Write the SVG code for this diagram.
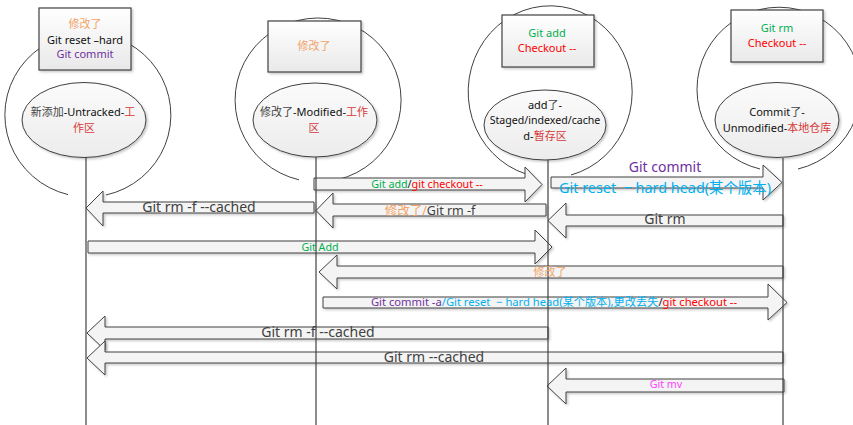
<svg xmlns="http://www.w3.org/2000/svg" width="853" height="425" viewBox="0 0 853 425">
  <defs>
    <linearGradient id="boxFill" x1="0" y1="0" x2="0" y2="1">
      <stop offset="0" stop-color="#ffffff"/>
      <stop offset="1" stop-color="#e9e9e9"/>
    </linearGradient>
    <linearGradient id="ellFill" x1="0" y1="0" x2="0" y2="1">
      <stop offset="0" stop-color="#fbfbfb"/>
      <stop offset="1" stop-color="#ececec"/>
    </linearGradient>
    <filter id="shadow" x="-5%" y="-10%" width="115%" height="130%">
      <feDropShadow dx="1.5" dy="1.5" stdDeviation="0.8" flood-color="#000" flood-opacity="0.22"/>
    </filter>
  </defs>
  <style>
    text { font-family: "Noto Sans", "Noto Sans CJK SC", sans-serif; text-anchor: middle; }
    .loop { fill: none; stroke: #404040; stroke-width: 1; }
    .box { fill: url(#boxFill); stroke: #404040; stroke-width: 1.2; filter: url(#shadow); }
    .ell { fill: url(#ellFill); stroke: #404040; stroke-width: 1; filter: url(#shadow); }
    .life { stroke: #404040; stroke-width: 1.2; }
    .arrow { fill: #f4f4f4; stroke: #404040; stroke-width: 1; filter: url(#shadow); }
    .t11 { font-size: 11px; }
    .t12 { font-size: 12.5px; }
    .t13 { font-size: 14px; }
    .t10 { font-size: 10.7px; }
    .blk { fill: #111; }
    .gry { fill: #404040; }
    .cjk { fill: #444; }
    .red { fill: #ff0000; }
    .dred { fill: #d63a3a; }
    .grn { fill: #00b050; }
    .pur { fill: #7030a0; }
    .cyn { fill: #00b0f0; }
    .org { fill: #f2a468; }
    .mag { fill: #ff40ff; }
  </style>
  <rect width="853" height="425" fill="#ffffff"/>

  <!-- working tree: untracked -->
  <g id="node-untracked">
    <path class="loop" d="M68,194.6 A83,82 0 1 1 106,195"/>
    <rect class="box" x="39" y="8" width="92" height="62"/>
    <text class="t11 org" x="85" y="28">修改了</text>
    <text class="t11 blk" x="85" y="44">Git reset –hard</text>
    <text class="t11 pur" x="85" y="58">Git commit</text>
    <ellipse class="ell" cx="84" cy="120" rx="62" ry="37.5"/>
    <text class="t11" x="83" y="116"><tspan class="cjk">新添加</tspan><tspan class="blk">-Untracked-</tspan><tspan class="dred">工</tspan></text>
    <text class="t11 dred" x="84" y="132">作区</text>
  </g>

  <!-- working tree: modified -->
  <g id="node-modified">
    <path class="loop" d="M299,179.8 A83,82 0 1 1 338,179.6"/>
    <rect class="box" x="268" y="21" width="93" height="51"/>
    <text class="t11 org" x="314" y="50">修改了</text>
    <ellipse class="ell" cx="315" cy="120" rx="62" ry="37"/>
    <text class="t11" x="314" y="116"><tspan class="cjk">修改了</tspan><tspan class="blk">-Modified-</tspan><tspan class="dred">工作</tspan></text>
    <text class="t11 dred" x="314" y="132">区</text>
  </g>

  <!-- staging area -->
  <g id="node-staged">
    <path class="loop" d="M526,174 A82,86 0 1 1 571,175"/>
    <rect class="box" x="502" y="15" width="92" height="52"/>
    <text class="t11 grn" x="547" y="37">Git add</text>
    <text class="t11 red" x="547" y="52">Checkout --</text>
    <ellipse class="ell" cx="545" cy="125" rx="61" ry="35"/>
    <text class="t11" x="545" y="109"><tspan class="blk">add</tspan><tspan class="cjk">了</tspan><tspan class="blk">-</tspan></text>
    <text class="blk" style="font-size:10.6px" x="545" y="124">Staged/indexed/cache</text>
    <text class="t11" x="545" y="140"><tspan class="blk">d-</tspan><tspan class="dred">暂存区</tspan></text>
  </g>

  <!-- local repository -->
  <g id="node-committed">
    <path class="loop" d="M760,169 A82,82 0 1 1 798,169"/>
    <rect class="box" x="731" y="10" width="92" height="52"/>
    <text class="t11 grn" x="777" y="32">Git rm</text>
    <text class="t11 red" x="777" y="47">Checkout --</text>
    <ellipse class="ell" cx="777" cy="120" rx="62" ry="37.5"/>
    <text class="t11" x="777" y="116"><tspan class="blk">Commit</tspan><tspan class="cjk">了</tspan><tspan class="blk">-</tspan></text>
    <text class="t11" x="777" y="132"><tspan class="blk">Unmodified-</tspan><tspan class="dred">本地仓库</tspan></text>
  </g>

  <g id="connectors">
    <!-- block arrows -->
    <polygon class="arrow" points="314,178 525,178 525,167 542,184.5 525,202 525,190 314,190"/>
    <polygon class="arrow" points="546,204 333,204 333,193 316,210.5 333,228 333,216 546,216"/>
    <polygon class="arrow" points="314,202 103,202 103,191 86,208 103,226 103,213 314,213"/>
    <polygon class="arrow" points="88,241 535,241 535,230 552,247 535,264 535,253 88,253"/>
    <polygon class="arrow" points="551,177 763,177 763,165 782,182.5 763,200 763,188 551,188"/>
    <polygon class="arrow" points="783,215 566,215 566,203 548,220.5 566,238 566,226 783,226"/>
    <polygon class="arrow" points="783,266 337,266 337,255 319,272 337,289 337,278 783,278"/>
    <polygon class="arrow" points="323,297 768,297 768,284 787,302.5 768,320 768,308 323,308"/>
    <polygon class="arrow" points="548,327 105,327 105,316 87,333 105,350 105,339 548,339"/>
    <polygon class="arrow" points="783,352 105,352 105,341 87,358 105,375 105,363 783,363"/>
    <polygon class="arrow" points="784,379 566,379 566,368 547,386 566,404 566,392 784,392"/>

    <!-- lifelines -->
    <line class="life" x1="86" y1="157" x2="86" y2="425"/>
    <line class="life" x1="316" y1="157" x2="316" y2="425"/>
    <line class="life" x1="548" y1="160" x2="548" y2="425"/>
    <line class="life" x1="783" y1="158" x2="783" y2="425"/>

    <!-- arrow labels -->
    <text class="t10" x="427" y="188"><tspan class="grn">Git add</tspan><tspan class="blk">/</tspan><tspan class="red">git checkout --</tspan></text>
    <text class="t12" x="430" y="215"><tspan class="org">修改了/</tspan><tspan class="gry">Git rm -f</tspan></text>
    <text class="t13 gry" x="199" y="212">Git rm -f --cached</text>
    <text class="t10 grn" x="320" y="251">Git Add</text>
    <text style="font-size:14px" class="pur" x="665" y="172">Git commit</text>
    <text style="font-size:14.4px" class="cyn" x="665" y="193" xml:space="preserve">Git reset  − hard head(某个版本)</text>
    <text class="t13 gry" x="665" y="224">Git rm</text>
    <text class="t11 org" x="550" y="276">修改了</text>
    <text style="font-size:11.2px" x="554" y="306" xml:space="preserve"><tspan class="pur">Git commit -a</tspan><tspan class="cyn">/Git reset  − hard head(某个版本),更改丢失</tspan><tspan class="blk">/</tspan><tspan class="red">git checkout --</tspan></text>
    <text class="t13 gry" x="318" y="337">Git rm -f --cached</text>
    <text class="t13 gry" x="434" y="362">Git rm --cached</text>
    <text class="t10 mag" x="666" y="388">Git mv</text>
  </g>
</svg>
